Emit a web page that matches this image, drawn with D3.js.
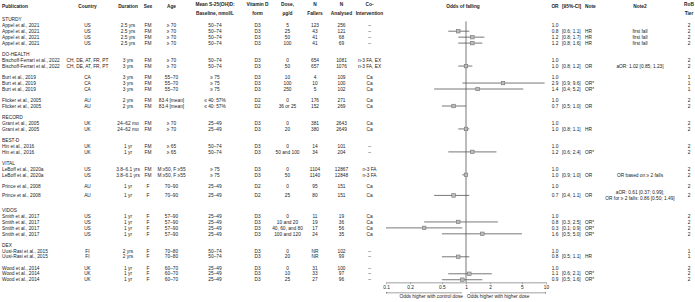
<!DOCTYPE html>
<html>
<head>
<meta charset="utf-8">
<script src="https://cdn.jsdelivr.net/npm/d3@7"></script>
<style>
  body { margin: 0; background: #fff; }
  svg text { font-family: "Liberation Sans", Arial, sans-serif; fill: #222; }
</style>
</head>
<body>
<div id="chart"></div>
<script>
// trial blocks: optional group label + number of study rows
const blockGroups = ['STURDY', 'DO-HEALTH', null, null, 'RECORD', 'BEST-D', 'VITAL', null, 'VIDOS', 'DEX', null];
const blockSizes  = [4, 2, 3, 2, 2, 2, 2, 2, 4, 2, 3];

const publications = [
  'Appel et al., 2021', 'Appel et al., 2021', 'Appel et al., 2021', 'Appel et al., 2021',
  'Bischoff-Ferrari et al., 2022', 'Bischoff-Ferrari et al., 2022',
  'Burt et al., 2019', 'Burt et al., 2019', 'Burt et al., 2019',
  'Flicker et al., 2005', 'Flicker et al., 2005',
  'Grant et al., 2005', 'Grant et al., 2005',
  'Hin et al., 2016', 'Hin et al., 2016',
  'LeBoff et al., 2020a', 'LeBoff et al., 2020a',
  'Prince et al., 2008', 'Prince et al., 2008',
  'Smith et al., 2017', 'Smith et al., 2017', 'Smith et al., 2017', 'Smith et al., 2017',
  'Uusi-Rasi et al., 2015', 'Uusi-Rasi et al., 2015',
  'Wood et al., 2014', 'Wood et al., 2014', 'Wood et al., 2014'
];
const countries = ['US', 'US', 'US', 'US', 'CH, DE, AT, FR, PT', 'CH, DE, AT, FR, PT', 'CA', 'CA', 'CA', 'AU', 'AU',
  'UK', 'UK', 'UK', 'UK', 'US', 'US', 'AU', 'AU', 'US', 'US', 'US', 'US', 'FI', 'FI', 'UK', 'UK', 'UK'];
const durations = ['2.5 yrs', '2.5 yrs', '2.5 yrs', '2.5 yrs', '3 yrs', '3 yrs', '3 yrs', '3 yrs', '3 yrs', '2 yrs', '2 yrs',
  '24–62 mo', '24–62 mo', '1 yr', '1 yr', '3.8–6.1 yrs', '3.8–6.1 yrs', '1 yr', '1 yr',
  '1 yr', '1 yr', '1 yr', '1 yr', '2 yrs', '2 yrs', '1 yr', '1 yr', '1 yr'];
const sexes = ['FM', 'FM', 'FM', 'FM', 'FM', 'FM', 'FM', 'FM', 'FM', 'FM', 'FM', 'FM', 'FM', 'FM', 'FM', 'FM', 'FM',
  'F', 'F', 'F', 'F', 'F', 'F', 'F', 'F', 'F', 'F', 'F'];
const ages = ['≥ 70', '≥ 70', '≥ 70', '≥ 70', '≥ 70', '≥ 70', '55–70', '55–70', '55–70', '83.4 [mean]', '83.4 [mean]',
  '≥ 70', '≥ 70', '≥ 65', '≥ 65', 'M ≥50,  F ≥55', 'M ≥50,  F ≥55', '70–90', '70–90',
  '57–90', '57–90', '57–90', '57–90', '70–80', '70–80', '60–70', '60–70', '60–70'];
const baselines = ['50–74', '50–74', '50–74', '50–74', '50–74', '50–74', '≥ 75', '≥ 75', '≥ 75', '≤ 40: 57%', '≤ 40: 57%',
  '25–49', '25–49', '50–74', '50–74', '≥ 75', '≥ 75', '25–49', '25–49',
  '25–49', '25–49', '25–49', '25–49', '50–74', '50–74', '25–49', '25–49', '25–49'];
const forms = ['D3', 'D3', 'D3', 'D3', 'D3', 'D3', 'D3', 'D3', 'D3', 'D2', 'D2', 'D3', 'D3', 'D3', 'D3', 'D3', 'D3',
  'D2', 'D2', 'D3', 'D3', 'D3', 'D3', 'D3', 'D3', 'D3', 'D3', 'D3'];
const doses = ['5', '25', '50', '100', '0', '50', '10', '100', '250', '0', '36 or 25', '0', '20', '0', '50 and 100',
  '0', '50', '0', '25', '0', '10 and 20', '40, 60, and 80', '100 and 120', '0', '20', '0', '10', '25'];
const fallers = ['123', '43', '41', '41', '654', '657', '4', '10', '5', '176', '152', '381', '380', '14', '34',
  '1104', '1140', '95', '80', '11', '19', '17', '24', 'NR', 'NR', '31', '33', '27'];
const analysed = ['256', '121', '68', '69', '1081', '1076', '109', '100', '102', '271', '269', '2643', '2649', '101', '204',
  '12867', '12848', '151', '151', '19', '36', '56', '35', '102', '99', '100', '97', '96'];
const coInterventions = ['–', '–', '–', '–', 'n-3 FA, EX', 'n-3 FA, EX', 'Ca', 'Ca', 'Ca', 'Ca', 'Ca', 'Ca', 'Ca', '–', '–',
  'n-3 FA', 'n-3 FA', 'Ca', 'Ca', 'Ca', 'Ca', 'Ca', 'Ca', '–', '–', '–', '–', '–'];
const orValues = [1.0, 0.8, 1.2, 1.2, 1.0, 1.0, 1.0, 2.9, 1.4, 1.0, 0.7, 1.0, 1.0, 1.0, 1.2,
  1.0, 1.0, 1.0, 0.7, 1.0, 0.8, 0.3, 1.6, 1.0, 0.8, 1.0, 1.1, 0.9];
const ciLow = [null, 0.6, 0.8, 0.8, null, 0.8, null, 0.9, 0.4, null, 0.5, null, 0.8, null, 0.6,
  null, 0.9, null, 0.4, null, 0.3, 0.1, 0.5, null, 0.5, null, 0.6, 0.5];
const ciHigh = [null, 1.1, 1.7, 1.6, null, 1.2, null, 9.6, 5.2, null, 1.0, null, 1.1, null, 2.4,
  null, 1.0, null, 1.1, null, 2.5, 0.9, 5.0, null, 1.1, null, 2.1, 1.6];
const notes = ['', 'HR', 'HR', 'HR', '', 'OR', '', 'OR*', 'OR*', '', 'OR', '', 'HR', '', 'OR*',
  '', 'OR', '', 'OR', '', 'OR*', 'OR*', 'OR*', '', 'HR', '', 'OR*', 'OR*'];
const notes2 = [[], ['first fall'], ['first fall'], ['first fall'], [], ['aOR: 1.02 [0.85; 1.23]'],
  [], [], [], [], [], [], [], [], [], [], ['OR based on ≥ 2 falls'],
  [], ['aOR: 0.61 [0.37; 0.99];', 'OR for ≥ 2 falls: 0.86 [0.50; 1.49]'],
  [], [], [], [], [], [], [], [], []];
const robTiers = ['2', '2', '2', '2', '2', '2', '1', '1', '1', '2', '2', '2', '2', '2', '2',
  '2', '2', '2', '2', '2', '2', '2', '2', '1', '1', '2', '2', '2'];
const axisTicks = [0.1, 0.2, 0.5, 1, 2, 5, 10];

const width = 695, height = 302;
const fontSize = 4.8;
const lineH = 5.95, blockGap = 5.1, firstRow = 19.3;

// columns: header lines, value accessor, x, anchor
const columns = [
  {head: ['Publication'], val: i => publications[i], x: 2, anchor: 'start'},
  {head: ['Country'], val: i => countries[i], x: 87.5, anchor: 'middle'},
  {head: ['Duration'], val: i => durations[i], x: 128, anchor: 'middle'},
  {head: ['Sex'], val: i => sexes[i], x: 148, anchor: 'middle'},
  {head: ['Age'], val: i => ages[i], x: 171.5, anchor: 'middle'},
  {head: ['Mean S-25(OH)D:', 'Baseline, nmol/L'], val: i => baselines[i], x: 215, anchor: 'middle'},
  {head: ['Vitamin D', 'form'], val: i => forms[i], x: 257.5, anchor: 'middle'},
  {head: ['Dose,', 'µg/d'], val: i => doses[i], x: 287.5, anchor: 'middle'},
  {head: ['N', 'Fallers'], val: i => fallers[i], x: 315, anchor: 'middle'},
  {head: ['N', 'Analysed'], val: i => analysed[i], x: 341.5, anchor: 'middle'},
  {head: ['Co-', 'Intervention'], val: i => coInterventions[i], x: 369.5, anchor: 'middle'},
  {head: ['OR'], val: i => orValues[i].toFixed(1), x: 555, anchor: 'middle'},
  {head: ['[95%-CI]'], val: i => ciLow[i] == null ? '' : `[${ciLow[i].toFixed(1)}; ${ciHigh[i].toFixed(1)}]`, x: 562, anchor: 'start'},
  {head: ['Note'], val: i => notes[i], x: 585, anchor: 'start'},
  {head: ['RoB', 'Tier'], val: i => robTiers[i], x: 689, anchor: 'middle'}
];

// layout rows
let groupRows = [], studyRows = [];
let y = firstRow - lineH, k = 0;
blockGroups.forEach((g, b) => {
  if (b > 0) y += blockGap;
  if (g) { y += lineH; groupRows.push({text: g, y: y}); }
  for (let j = 0; j < blockSizes[b]; j++, k++) {
    let extra = notes2[k].length > 1 ? lineH * 0.6 : 0;
    y += lineH + extra;
    studyRows.push({i: k, y: y});
    y += extra;
  }
});
const lastY = y;

const svg = d3.select('#chart').append('svg')
  .attr('width', width)
  .attr('height', height)
  .style('font-size', fontSize + 'px');

// header
columns.forEach(c => {
  c.head.forEach((h, li) => {
    svg.append('text')
      .attr('x', c.x)
      .attr('y', c.head.length > 1 ? 4.5 + li * 8.5 : 6)
      .attr('dy', '0.35em')
      .attr('text-anchor', c.anchor)
      .attr('font-weight', 'bold')
      .text(h);
  });
});
svg.append('text').attr('x', 640).attr('y', 6).attr('dy', '0.35em')
  .attr('text-anchor', 'middle').attr('font-weight', 'bold').text('Note2');

let xScale = d3.scaleLog()
  .domain([0.1, 10])
  .range([386, 546]);

svg.append('text').attr('x', xScale(1) - 3).attr('y', 6).attr('dy', '0.35em')
  .attr('text-anchor', 'middle').attr('font-weight', 'bold').text('Odds of falling');

// group labels
svg.selectAll('.grp')
  .data(groupRows)
  .join('text')
  .attr('class', 'grp')
  .attr('x', 2)
  .attr('y', d => d.y)
  .attr('dy', '0.35em')
  .text(d => d.text);

// table cells
columns.forEach(c => {
  svg.append('g').selectAll('text')
    .data(studyRows)
    .join('text')
    .attr('x', c.x)
    .attr('y', d => d.y)
    .attr('dy', '0.35em')
    .attr('text-anchor', c.anchor)
    .text(d => c.val(d.i));
});

// note2 (may span two lines)
studyRows.forEach(d => {
  let lines = notes2[d.i];
  lines.forEach((t, li) => {
    svg.append('text')
      .attr('x', 640)
      .attr('y', d.y + (li - (lines.length - 1) / 2) * lineH)
      .attr('dy', '0.35em')
      .attr('text-anchor', 'middle')
      .text(t);
  });
});

// forest
let axisY = lastY + 2.6;
let forest = svg.append('g');

forest.append('line')
  .attr('x1', xScale(1)).attr('x2', xScale(1))
  .attr('y1', firstRow + 2).attr('y2', axisY)
  .attr('stroke', '#555')
  .attr('stroke-width', 0.8);

let est = studyRows.filter(d => ciLow[d.i] != null);

forest.selectAll('.ci')
  .data(est)
  .join('line')
  .attr('class', 'ci')
  .attr('x1', d => xScale(ciLow[d.i]))
  .attr('x2', d => xScale(ciHigh[d.i]))
  .attr('y1', d => d.y)
  .attr('y2', d => d.y)
  .attr('stroke', '#555')
  .attr('stroke-width', 0.8);

forest.selectAll('.pt')
  .data(est)
  .join('rect')
  .attr('class', 'pt')
  .attr('x', d => xScale(orValues[d.i]) - 1.8)
  .attr('y', d => d.y - 1.8)
  .attr('width', 3.6)
  .attr('height', 3.6)
  .attr('fill', '#bbb')
  .attr('stroke', '#666')
  .attr('stroke-width', 0.5);

let axisG = svg.append('g')
  .attr('transform', `translate(0, ${axisY})`)
  .call(d3.axisBottom(xScale).tickValues(axisTicks).tickFormat(d3.format('')).tickSize(2).tickSizeOuter(0));
axisG.select('.domain').attr('stroke', '#888').attr('stroke-width', 0.8);
axisG.selectAll('.tick line').attr('stroke', '#888').attr('stroke-width', 0.6);
axisG.selectAll('.tick text')
  .attr('font-size', fontSize)
  .attr('font-family', '"Liberation Sans", Arial, sans-serif')
  .attr('fill', '#222')
  .attr('y', 3);

// direction arrows
let defs = svg.append('defs');
defs.append('marker')
  .attr('id', 'arr')
  .attr('viewBox', '0 0 6 6')
  .attr('refX', 5).attr('refY', 3)
  .attr('markerWidth', 3).attr('markerHeight', 3)
  .attr('orient', 'auto-start-reverse')
  .append('path')
  .attr('d', 'M0,0 L6,3 L0,6 Z')
  .attr('fill', '#444');

let arrowY = axisY + 10.5;
svg.append('line')
  .attr('x1', xScale(1) - 4).attr('x2', xScale(0.1))
  .attr('y1', arrowY).attr('y2', arrowY)
  .attr('stroke', '#444').attr('stroke-width', 0.5)
  .attr('marker-end', 'url(#arr)');
svg.append('line')
  .attr('x1', xScale(1) + 4).attr('x2', xScale(10))
  .attr('y1', arrowY).attr('y2', arrowY)
  .attr('stroke', '#444').attr('stroke-width', 0.5)
  .attr('marker-end', 'url(#arr)');

svg.append('text')
  .attr('x', xScale(1) - 3).attr('y', arrowY + 3)
  .attr('dy', '0.35em').attr('text-anchor', 'end')
  .text('Odds higher with control dose');
svg.append('text')
  .attr('x', xScale(1) + 1).attr('y', arrowY + 3)
  .attr('dy', '0.35em').attr('text-anchor', 'start')
  .text('Odds higher with higher dose');
</script>
</body>
</html>
